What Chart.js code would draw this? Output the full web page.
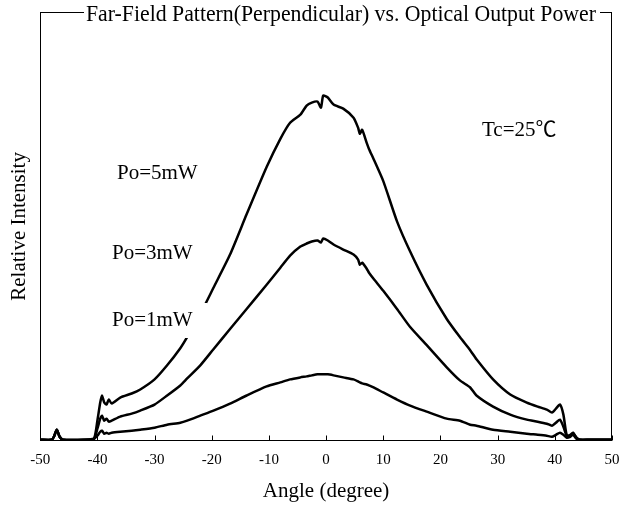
<!DOCTYPE html>
<html>
<head>
<meta charset="utf-8">
<script src="https://cdn.jsdelivr.net/npm/chart.js@4.4.0/dist/chart.umd.min.js"></script>
<style>
  html, body { margin: 0; padding: 0; background: #fff; }
</style>
</head>
<body>
<canvas id="ffp" width="625" height="510"></canvas>
<script>
// angle (degree) shared by all three scans
const angles = [-50, -48, -47.6, -47.1, -46.6, -46, -42, -40.6, -40, -39.5, -39.2, -38.8, -38.4, -38, -37.5,
  -36, -34, -32.5, -30, -27.8, -25.5, -24.3, -22, -19.7, -16.8, -13.9, -10.4, -8, -6.3, -4.5, -3.4, -2.5,
  -1.5, -0.9, -0.5, 0.3, 1.3, 3, 4.8, 5.6, 5.9, 6.3, 7.1, 7.5, 8.3, 10, 12.4, 14.7, 17.6, 21.1, 23.4, 25.2,
  26.3, 29.2, 32.2, 35.1, 37, 38.6, 39.5, 40.2, 40.9, 41.5, 42.1, 42.7, 43.2, 43.8, 44.4, 46, 50];

// relative intensity (arbitrary units)
const po5mW = [1, 1, 4, 11, 4, 1, 1, 2, 20, 38, 45, 38, 36, 41, 37,
  43, 47, 51, 61, 75, 92, 103, 126, 152, 185, 225, 272, 300, 316, 324, 333, 336,
  337, 331, 343, 341, 334, 330, 321, 311, 305, 309, 296, 290, 280, 258, 218, 188, 155, 121, 103, 90,
  81, 61, 46, 38, 34, 31, 28, 32, 36, 26, 5, 6, 8, 3, 1, 1, 1];
const po3mW = [1, 1, 4, 11, 4, 1, 1, 2, 12, 22, 25, 20, 22, 19, 20,
  24, 27, 30, 36, 45, 55, 62, 75, 91, 111, 131, 155, 172, 184, 193, 196, 198,
  199, 197, 201, 199, 195, 190, 185, 180, 175, 177, 171, 167, 161, 149, 131, 113, 95, 73, 60, 53,
  45, 34, 26, 21, 19, 17, 15, 18, 21, 14, 5, 5, 7, 3, 1, 1, 1];
const po1mW = [1, 1, 4, 11, 4, 1, 1, 2, 5, 9, 10, 7, 8, 7, 8,
  9, 10, 11, 13, 16, 18, 20, 25, 30, 37, 45, 54, 58, 61, 63, 64, 65,
  66, 66, 66, 66, 65, 63, 61, 59, 58, 57, 56, 55, 53, 48, 41, 35, 29, 22, 20, 16,
  15, 11, 9, 7, 6, 5, 4, 6, 8, 6, 3, 4, 6, 2, 1, 1, 1];

const xTicks = [-50, -40, -30, -20, -10, 0, 10, 20, 30, 40, 50];
const seriesNames = ['Po=5mW', 'Po=3mW', 'Po=1mW'];
const chartTitle = 'Far-Field Pattern(Perpendicular) vs. Optical Output Power';
const tempNote = 'Tc=25\u2103';

const serif = "'Liberation Serif', 'Times New Roman', 'Noto Sans CJK SC', serif";

function toPoints(ys) {
  return angles.map((a, i) => ({ x: a, y: ys[i] }));
}

// frame, inner tick marks and the text annotations
const decor = {
  id: 'decor',
  beforeDatasetsDraw(chart) {
    const { ctx, chartArea: a, scales: { x } } = chart;
    ctx.save();
    ctx.strokeStyle = '#000';
    ctx.lineWidth = 1;
    const l = Math.round(a.left) + 0.5, r = Math.round(a.right) - 0.5;
    const t = Math.round(a.top) + 0.5, b = Math.round(a.bottom) - 0.5;
    ctx.strokeRect(l, t, r - l, b - t);
    ctx.beginPath();
    xTicks.forEach(v => {
      const px = Math.round(x.getPixelForValue(v)) + 0.5;
      ctx.moveTo(px, b);
      ctx.lineTo(px, b - 5);
    });
    ctx.stroke();
    ctx.restore();
  },
  afterDatasetsDraw(chart) {
    const { ctx } = chart;
    ctx.save();
    ctx.fillStyle = '#fff';
    ctx.fillRect(106, 303, 101, 35);
    ctx.fillRect(84, 2, 516, 26);

    ctx.fillStyle = '#000';
    ctx.textBaseline = 'middle';
    ctx.textAlign = 'left';
    ctx.font = '21px ' + serif;
    ctx.fillText(seriesNames[0], 117, 173);
    ctx.fillText(seriesNames[1], 112, 253);
    ctx.fillText(seriesNames[2], 112, 320);
    ctx.fillText(tempNote, 482, 130);

    ctx.textAlign = 'center';
    ctx.font = '23px ' + serif;
    ctx.fillText(chartTitle, 341, 15, 510);
    ctx.restore();
  }
};

new Chart(document.getElementById('ffp'), {
  type: 'line',
  data: {
    datasets: [
      { label: seriesNames[0], data: toPoints(po5mW) },
      { label: seriesNames[1], data: toPoints(po3mW) },
      { label: seriesNames[2], data: toPoints(po1mW) }
    ]
  },
  options: {
    responsive: false,
    animation: false,
    devicePixelRatio: 1,
    layout: { padding: { left: 6, right: 13, top: 12, bottom: 0 } },
    elements: {
      line: { borderColor: '#000', borderWidth: 2.5, tension: 0.2, fill: false },
      point: { radius: 0 }
    },
    plugins: {
      legend: { display: false },
      tooltip: { enabled: false }
    },
    scales: {
      x: {
        type: 'linear',
        min: -50,
        max: 50,
        grid: { display: false, drawTicks: false },
        border: { display: false },
        afterBuildTicks: scale => { scale.ticks = xTicks.map(v => ({ value: v })); },
        afterFit: scale => { scale.paddingLeft = 0; scale.paddingRight = 0; },
        ticks: {
          color: '#000',
          padding: 10,
          maxRotation: 0,
          font: { family: serif, size: 15 }
        },
        title: {
          display: true,
          text: 'Angle (degree)',
          color: '#000',
          padding: { top: 0, bottom: 6 },
          font: { family: serif, size: 21 }
        }
      },
      y: {
        min: 0,
        max: 426,
        grid: { display: false, drawTicks: false },
        border: { display: false },
        ticks: { display: false },
        title: {
          display: true,
          text: 'Relative Intensity',
          color: '#000',
          padding: { top: 1, bottom: 8 },
          font: { family: serif, size: 21 }
        }
      }
    }
  },
  plugins: [decor]
});
</script>
</body>
</html>
